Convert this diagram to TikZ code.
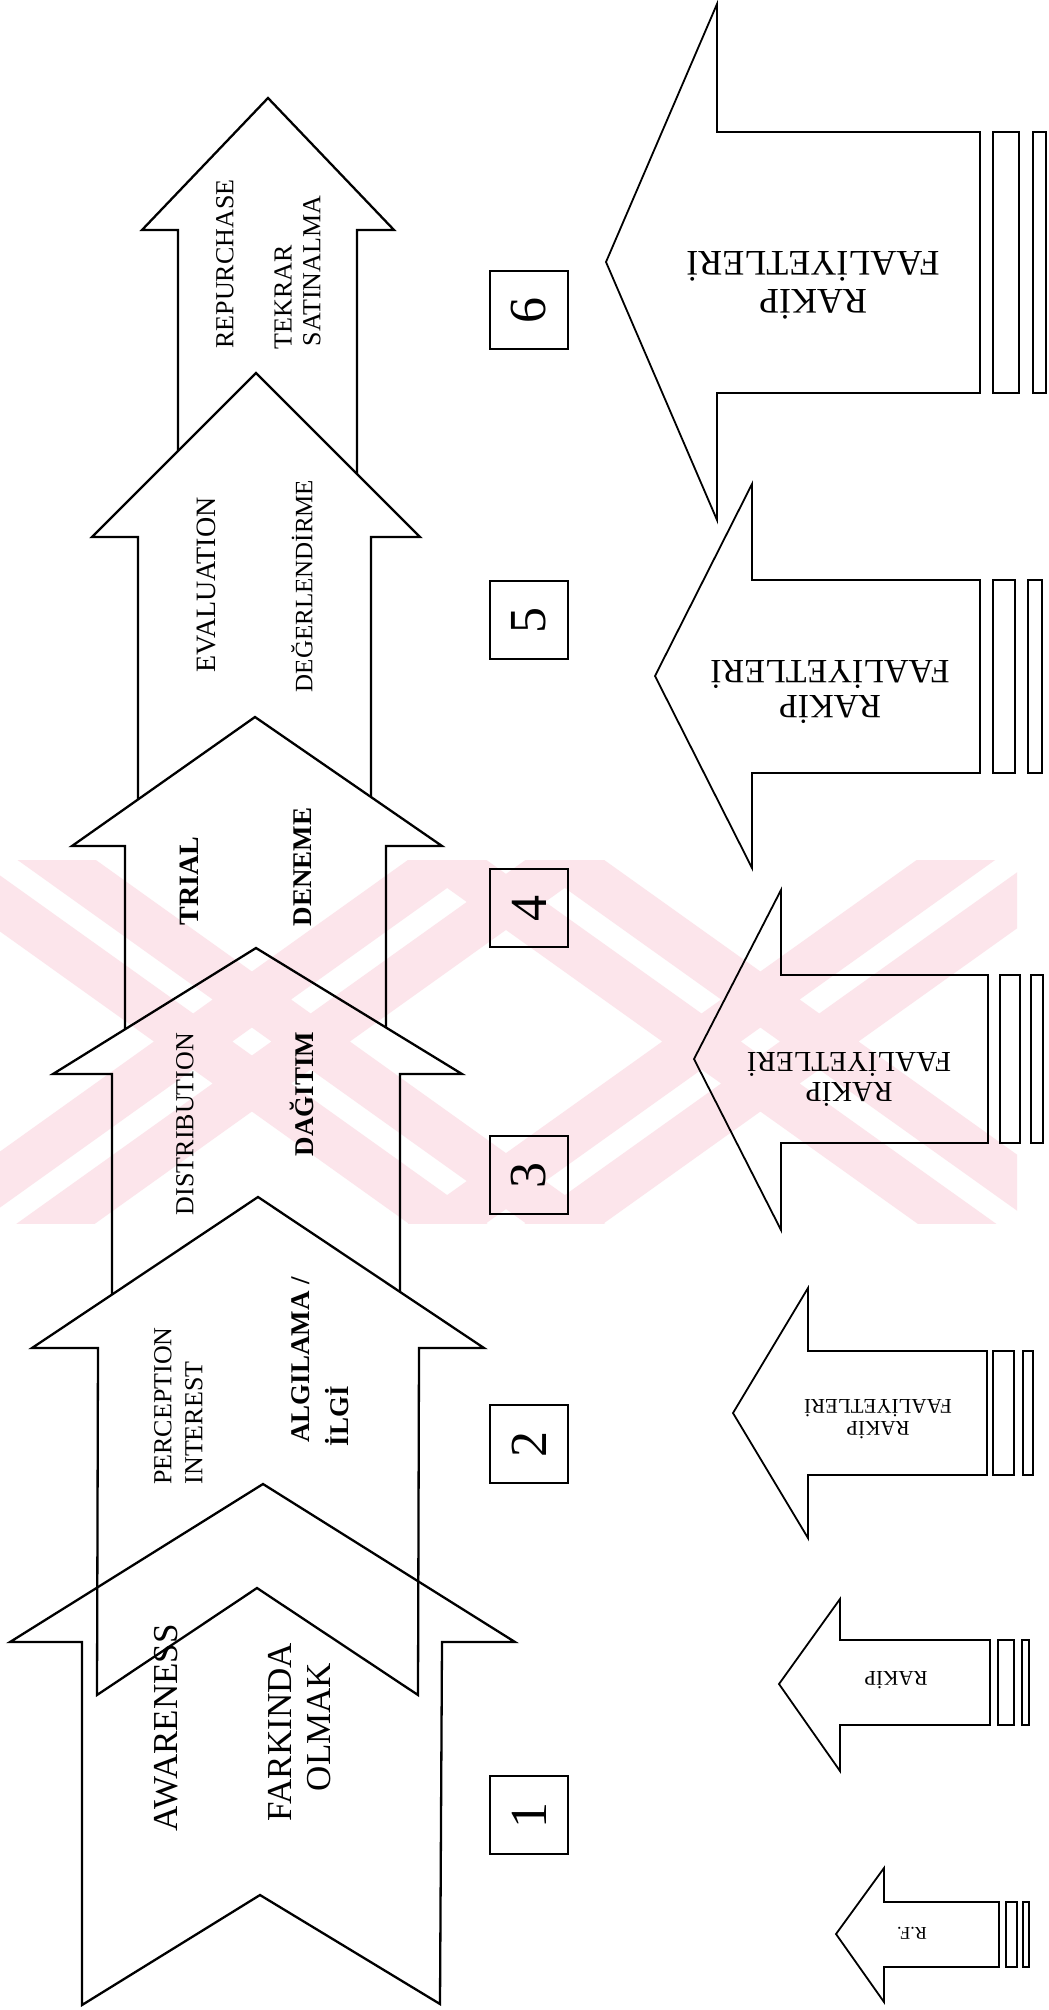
\documentclass[tikz,border=0pt]{standalone}
\usepackage{fontspec}
\setmainfont{Liberation Serif}
\definecolor{wmpink}{RGB}{252,229,235}
\tikzset{
  mainarrow/.style={draw=black, line width=2.3pt, line join=miter},
  comparrow/.style={draw=black, line width=1.8pt, fill=white, line join=miter},
  barline/.style={draw=black, line width=1.6pt},
  numbox/.style={draw=black, line width=2pt, minimum width=78pt, minimum height=78pt, inner sep=0pt},
  lbl/.style={rotate=90, inner sep=0pt},
  clbl/.style={rotate=180, align=center, inner sep=0pt}
}
% stripe: centre line from (#1,#2) to (#3,#4), vertical half thickness 28
\newcommand\wmstripe[4]{(#1,#2-28) -- (#3,#4-28) -- (#3,#4+28) -- (#1,#2+28) -- cycle}
\begin{document}
\begin{tikzpicture}[x=1pt, y=-1pt]
\useasboundingbox (0,0) rectangle (1049,2010);
\fill[white] (0,0) rectangle (1049,2010);

% ---- main arrows (upward), drawn from top to bottom ----
\path[mainarrow, fill=white] (268,98) -- (394,230) -- (357,230) -- (357,530) -- (178,530) -- (178,230) -- (142,230) -- cycle;
\path[mainarrow, fill=white] (256,373) -- (420,537) -- (371,537) -- (371,835) -- (138,835) -- (138,537) -- (92,537) -- cycle;
\path[mainarrow, fill=white] (255,717) -- (442,846) -- (386,846) -- (386,1065) -- (125,1065) -- (125,846) -- (72,846) -- cycle;
\path[mainarrow, fill=white] (256,948) -- (462,1074) -- (400,1074) -- (400,1340) -- (112,1340) -- (112,1074) -- (53,1074) -- cycle;
\path[mainarrow, fill=white] (258,1197) -- (484,1348) -- (419,1348) -- (418,1695) -- (257,1588) -- (97,1695) -- (98,1348) -- (32,1348) -- cycle;
\path[mainarrow] (263,1484) -- (515,1642) -- (442,1642) -- (440,2004) -- (260,1895) -- (82,2005) -- (82,1642) -- (10,1642) -- cycle;

% ---- main arrow texts ----
\node[lbl, font=\fontsize{26}{28}\selectfont] (r6a) at (225,264) {REPURCHASE};
\node[lbl, font=\fontsize{26}{28}\selectfont] (r6b) at (283,297) {TEKRAR};
\node[lbl, font=\fontsize{26}{28}\selectfont] (r6c) at (312,271) {SATINALMA};
\node[lbl, font=\fontsize{28}{30}\selectfont] (r5a) at (206,585) {EVALUATION};
\node[lbl, font=\fontsize{25}{27}\selectfont] (r5b) at (302,586) {DEĞERLENDİRME};
\node[lbl, font=\fontsize{28}{30}\selectfont\bfseries] (r4a) at (189,881) {TRIAL};
\node[lbl, font=\fontsize{27}{29}\selectfont\bfseries] (r4b) at (303,867) {DENEME};
\node[lbl, font=\fontsize{26}{28}\selectfont] (r3a) at (185,1124) {DISTRIBUTION};
\node[lbl, font=\fontsize{27}{29}\selectfont\bfseries] (r3b) at (302,1094) {DAĞITIM};
\node[lbl, font=\fontsize{26}{28}\selectfont] (r2a) at (163,1406) {PERCEPTION};
\node[lbl, font=\fontsize{26}{28}\selectfont] (r2b) at (194,1423) {INTEREST};
\node[lbl, font=\fontsize{27}{29}\selectfont\bfseries] (r2c) at (301,1360) {ALGILAMA /};
\node[lbl, font=\fontsize{27}{29}\selectfont\bfseries] (r2d) at (337,1416) {İLGİ};
\node[lbl, font=\fontsize{35}{38}\selectfont] (r1a) at (166,1728) {AWARENESS};
\node[lbl, font=\fontsize{35}{38}\selectfont] (r1b) at (280,1732) {FARKINDA};
\node[lbl, font=\fontsize{35}{38}\selectfont] (r1c) at (319,1727) {OLMAK};

% ---- number boxes ----
\node[numbox, font=\fontsize{52}{54}\selectfont] (n6) at (529,310) {\rotatebox{90}{6}};
\node[numbox, font=\fontsize{52}{54}\selectfont] (n5) at (529,620) {\rotatebox{90}{5}};
\node[numbox, font=\fontsize{52}{54}\selectfont] (n4) at (529,908) {\rotatebox{90}{4}};
\node[numbox, font=\fontsize{52}{54}\selectfont] (n3) at (529,1175) {\rotatebox{90}{3}};
\node[numbox, font=\fontsize{52}{54}\selectfont] (n2) at (529,1444) {\rotatebox{90}{2}};
\node[numbox, font=\fontsize{52}{54}\selectfont] (n1) at (529,1815) {\rotatebox{90}{1}};

% ---- competitor arrows (leftward) ----
\path[comparrow] (606,262) -- (717,4) -- (717,132) -- (980,132) -- (980,393) -- (717,393) -- (717,520) -- cycle;
\draw[barline] (993,132) rectangle (1019,393);
\draw[barline] (1033,132) rectangle (1046,393);
\node[clbl, font=\fontsize{36}{38}\selectfont] (c6) at (813,285) {RAKİP\\FAALİYETLERİ};

\path[comparrow] (655,676) -- (752,484) -- (752,580) -- (980,580) -- (980,773) -- (752,773) -- (752,868) -- cycle;
\draw[barline] (993,580) rectangle (1015,773);
\draw[barline] (1028,580) rectangle (1042,773);
\node[clbl, font=\fontsize{34}{35}\selectfont] (c5) at (830,692) {RAKİP\\FAALİYETLERİ};

\path[comparrow] (694,1059) -- (781,890) -- (781,975) -- (988,975) -- (988,1143) -- (781,1143) -- (781,1230) -- cycle;
\draw[barline] (1000,975) rectangle (1020,1143);
\draw[barline] (1031,975) rectangle (1043,1143);
\node[clbl, font=\fontsize{29}{30}\selectfont] (c4) at (849,1079) {RAKİP\\FAALİYETLERİ};

\path[comparrow] (733,1413) -- (808,1288) -- (808,1351) -- (987,1351) -- (987,1475) -- (808,1475) -- (808,1538) -- cycle;
\draw[barline] (993,1351) rectangle (1014,1475);
\draw[barline] (1023,1351) rectangle (1033,1475);
\node[clbl, font=\fontsize{21}{22}\selectfont] (c3) at (878,1419) {RAKİP\\FAALİYETLERİ};

\path[comparrow] (779,1684) -- (840,1599) -- (840,1640) -- (990,1640) -- (990,1725) -- (840,1725) -- (840,1771) -- cycle;
\draw[barline] (998,1640) rectangle (1014,1725);
\draw[barline] (1022,1640) rectangle (1029,1725);
\node[clbl, font=\fontsize{21}{22}\selectfont] (c2) at (896,1680) {RAKİP};

\path[comparrow] (836,1934) -- (884,1868) -- (884,1902) -- (999,1902) -- (999,1967) -- (884,1967) -- (884,2002) -- cycle;
\draw[barline] (1006,1902) rectangle (1017,1967);
\draw[barline] (1023,1902) rectangle (1029,1967);
\node[clbl, font=\fontsize{18}{19}\selectfont] (c1) at (912,1933) {R.F.};

% ---- faint watermark: one filled path, multiplied over the drawing ----
\begin{scope}[blend mode=multiply]
\clip (0,860) rectangle (1017,1223);
\fill[wmpink, nonzero rule]
  \wmstripe{-100}{748}{608}{1254} \wmstripe{-100}{832}{608}{1338}
  \wmstripe{-100}{1335}{608}{829} \wmstripe{-100}{1251}{608}{745}
  \wmstripe{408}{748}{1117}{1254} \wmstripe{408}{832}{1117}{1338}
  \wmstripe{408}{1335}{1117}{829} \wmstripe{408}{1251}{1117}{745};
\end{scope}
\end{tikzpicture}
\end{document}
